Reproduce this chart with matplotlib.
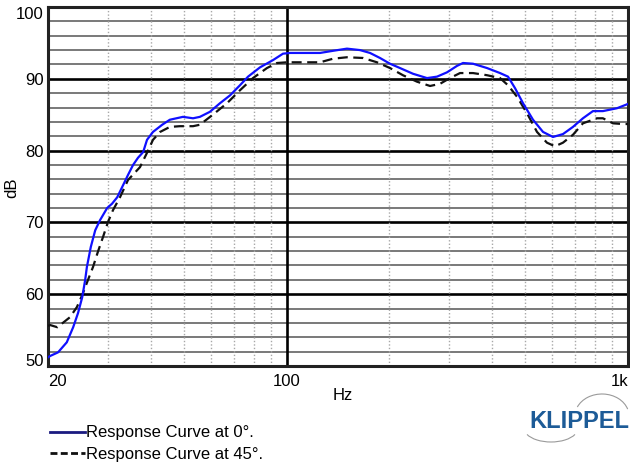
import matplotlib
matplotlib.use("Agg")
import matplotlib.pyplot as plt
from matplotlib.patches import Arc
from matplotlib.lines import Line2D

plt.rcParams['font.family'] = ['Liberation Sans', 'DejaVu Sans']

# response at 0 degrees
freq_0 = [20, 20.3, 21.4, 22.7, 23.7, 24.5, 25.2, 25.7, 26.0, 26.7, 27.5, 28.4, 29.8, 30.8,
          31.9, 33.2, 34.3, 35.5, 36.7, 38.0, 39.0, 40.6, 43.2, 45.5, 49.7, 53.2, 55.7,
          59.6, 63.8, 68.3, 73.0, 77.1, 83.6, 91.2, 97.6, 102.3, 109.4, 125.3, 136.8,
          150.2, 164.0, 175.5, 187.7, 200.8, 214.8, 234.6, 257.8, 275.8, 295.0, 315.6,
          328.6, 351.5, 386.3, 421.8, 445.2, 466.7, 492.6, 526.9, 563.7, 602.8, 644.8,
          689.8, 737.9, 789.3, 844.3, 928.3, 1000]
db_0 = [51.2, 51.4, 51.9, 53.3, 55.4, 57.4, 59.6, 62.0, 63.8, 66.6, 68.9, 70.3, 72.0, 72.6,
        73.5, 75.2, 76.6, 78.0, 79.0, 79.8, 81.5, 82.6, 83.6, 84.3, 84.7, 84.5, 84.7,
        85.4, 86.6, 87.7, 89.1, 90.3, 91.6, 92.6, 93.5, 93.6, 93.6, 93.6, 93.9, 94.2,
        94.0, 93.6, 92.9, 92.1, 91.5, 90.7, 90.1, 90.3, 90.9, 91.8, 92.2, 92.1, 91.5,
        90.8, 90.3, 88.7, 86.6, 84.3, 82.6, 81.9, 82.3, 83.3, 84.5, 85.5, 85.5, 85.9,
        86.5]

# response at 45 degrees
freq_45 = [20, 20.3, 21.3, 22.1, 23.2, 24.3, 25.2, 26.2, 27.1, 28.0, 29.0, 30.0, 31.0,
           32.5, 34.3, 37.2, 39.0, 40.6, 42.6, 45.5, 48.7, 53.2, 55.7, 60.8, 66.9,
           73.0, 79.7, 87.6, 93.7, 100.3, 109.4, 125.3, 136.8, 150.2, 167.4, 183.9,
           200.8, 219.1, 240.9, 263.1, 281.4, 300.9, 322.1, 351.5, 386.3, 421.8, 445.2,
           473.1, 506.0, 541.3, 578.9, 611.0, 644.8, 689.8, 737.9, 811.0, 844.3, 903.7,
           966.9, 1000]
db_45 = [55.6, 55.7, 55.4, 56.0, 56.8, 58.2, 59.9, 62.0, 63.8, 65.9, 68.0, 70.1, 71.7,
         73.5, 75.9, 77.7, 79.7, 81.5, 82.6, 83.3, 83.4, 83.4, 83.6, 85.0, 86.6,
         88.4, 90.1, 91.5, 92.2, 92.3, 92.3, 92.3, 92.8, 93.0, 92.9, 92.3, 91.5, 90.5,
         89.6, 89.0, 89.3, 90.1, 90.8, 90.8, 90.5, 90.1, 89.1, 87.5, 85.2, 82.6, 81.1,
         80.6, 81.1, 82.2, 83.8, 84.5, 84.5, 83.8, 83.7, 83.7]

legend_labels = ["Response Curve at 0°.", "Response Curve at 45°."]

W, H = 630, 466
fig = plt.figure(figsize=(W / 100, H / 100), dpi=100)
ax = fig.add_axes([48 / W, 100 / H, 580 / W, 359 / H])

ax.set_xscale('log')
ax.set_xlim(20, 1000)
ax.set_ylim(50, 100)

# grid: horizontal every 2 dB, black every 10 dB
for y in range(52, 100, 2):
    if y % 10 == 0:
        ax.axhline(y, color='black', lw=1.9, zorder=1)
    else:
        ax.axhline(y, color='#6e6e6e', lw=1.3, zorder=1)
minor_x = [30, 40, 50, 60, 70, 80, 90, 200, 300, 400, 500, 600, 700, 800, 900]
for x in minor_x:
    ax.axvline(x, color='#a8a8a8', lw=1.0, ls=(0, (1, 1.5)), zorder=1)
ax.axvline(100, color='black', lw=1.9, zorder=1)

ax.plot(freq_45, db_45, color='#111111', lw=1.6, ls=(0, (4.5, 2.5)), zorder=3)
ax.plot(freq_0, db_0, color='#1010ff', lw=1.6, zorder=4)

for s in ax.spines.values():
    s.set_linewidth(2.2)
    s.set_color('#222222')

ax.set_xticks([20, 100, 1000])
ax.set_xticklabels(['20', '100', '1k'])
ax.xaxis.set_minor_locator(matplotlib.ticker.NullLocator())
ax.set_yticks([50, 60, 70, 80, 90, 100])
ax.tick_params(length=0, labelsize=12)
ax.tick_params(axis='x', pad=6)
ax.tick_params(axis='y', pad=3)
xl = ax.get_xticklabels()
xl[0].set_ha('left')
xl[-1].set_ha('right')
yl = ax.get_yticklabels()
yl[0].set_va('baseline')
yl[-1].set_va('top')

fig.text(343 / W, 1 - 395 / H, 'Hz', fontsize=12, ha='center', va='center')
fig.text(12 / W, 1 - 188 / H, 'dB', fontsize=12, ha='center', va='center', rotation=90)

# legend drawn below the plot
fig.add_artist(Line2D([50 / W, 85 / W], [1 - 432 / H] * 2, color='#1a1a80', lw=2))
fig.text(86 / W, 1 - 433 / H, legend_labels[0], fontsize=12, va='center')
fig.add_artist(Line2D([50 / W, 85 / W], [1 - 453 / H] * 2, color='#111111', lw=2,
                      ls=(0, (2.5, 1.2))))
fig.text(86 / W, 1 - 454 / H, legend_labels[1], fontsize=12, va='center')

# logo
fig.text(579 / W, 1 - 421 / H, 'KLIPPEL', fontsize=17, fontweight='bold',
         color='#1d5b97', ha='center', va='center')
lax = fig.add_axes([0, 0, 1, 1], facecolor='none')
lax.set_xlim(0, W)
lax.set_ylim(H, 0)
lax.axis('off')
lax.add_patch(Arc((602, 416), 54, 44, theta1=200, theta2=345, color='#9a9a9a', lw=0.8))
lax.add_patch(Arc((551, 428), 54, 28, theta1=15, theta2=165, color='#9a9a9a', lw=0.8))

fig.savefig('out.png', dpi=100)
